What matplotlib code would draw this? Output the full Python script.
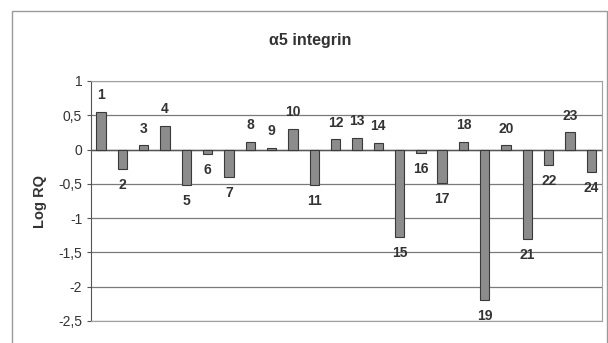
import matplotlib.pyplot as plt
from matplotlib.patches import Rectangle
from matplotlib.ticker import FuncFormatter

# sample numbers 1..24 and their Log RQ values
samples = list(range(1, 25))
log_rq = [0.55, -0.29, 0.06, 0.35, -0.52, -0.07, -0.40, 0.11, 0.02, 0.30,
          -0.52, 0.15, 0.17, 0.10, -1.28, -0.05, -0.49, 0.11, -2.20, 0.06,
          -1.30, -0.23, 0.25, -0.33]
y_ticks = [1, 0.5, 0, -0.5, -1, -1.5, -2, -2.5]

plt.rcParams["font.family"] = ["Liberation Sans", "DejaVu Sans"]

fig = plt.figure(figsize=(6.08, 3.43), dpi=100)
fig.patch.set_facecolor("white")

# outer chart frame
fig.add_artist(Rectangle((12 / 608, -0.05), (607 - 12) / 608, 1.05 - 11 / 343,
                         transform=fig.transFigure, fill=False,
                         edgecolor="#9a9a9a", linewidth=1.0))

ax = fig.add_axes([90.5 / 608, 1 - 321 / 343, (602 - 90.5) / 608, (321 - 81) / 343])

ax.bar(samples, log_rq, width=0.44, color="#8c8c8c", edgecolor="#3a3a3a",
       linewidth=0.8, zorder=3)

for s, v in zip(samples, log_rq):
    if v >= 0:
        ax.annotate(str(s), (s, v), xytext=(0, 7), textcoords="offset points",
                    ha="center", va="bottom", fontsize=10, fontweight="bold",
                    color="#333333", zorder=4)
    else:
        ax.annotate(str(s), (s, v), xytext=(0, -6.5), textcoords="offset points",
                    ha="center", va="top", fontsize=10, fontweight="bold",
                    color="#333333", zorder=4)

ax.set_xlim(0.5, 24.5)
ax.set_ylim(-2.5, 1)
ax.set_yticks(y_ticks)
ax.yaxis.set_major_formatter(FuncFormatter(lambda v, p: f"{v:g}".replace(".", ",")))
ax.set_xticks([])
ax.grid(axis="y", color="#7a7a7a", linewidth=0.9, zorder=0)
ax.axhline(0, color="#555555", linewidth=1.0, zorder=2)

for side in ["top", "right", "bottom"]:
    ax.spines[side].set_color("#a0a0a0")
ax.spines["left"].set_color("#555555")
ax.tick_params(axis="y", length=3, color="#555555", labelsize=10,
               labelcolor="#333333", pad=3)

ax.set_ylabel("Log RQ", fontsize=10.5, fontweight="bold", color="#333333", labelpad=8)
fig.text(310 / 608, 1 - 40 / 343, "α5 integrin", ha="center", va="center",
         fontsize=11.5, fontweight="bold", color="#333333")

fig.savefig("out.png", dpi=100, facecolor="white")
